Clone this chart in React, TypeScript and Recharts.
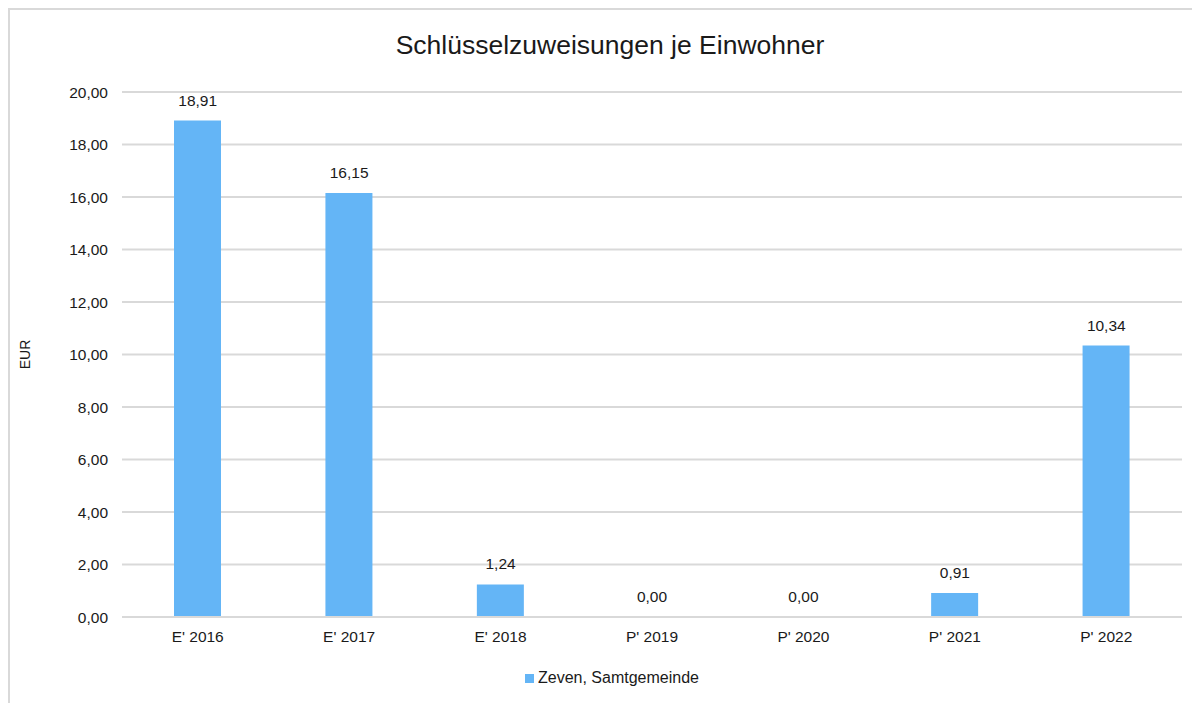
import { ComposedChart, Bar, Line, XAxis, YAxis, CartesianGrid, Legend, LabelList, Label } from 'recharts';

const categories = ["E' 2016", "E' 2017", "E' 2018", "P' 2019", "P' 2020", "P' 2021", "P' 2022"];
const zevenValues = [18.91, 16.15, 1.24, 0, 0, 0.91, 10.34];
const yTicks = [0, 2, 4, 6, 8, 10, 12, 14, 16, 18, 20];

const data = categories.map((name, i) => ({ name, zeven: zevenValues[i] }));

const fmt = (v: number) => v.toFixed(2).replace('.', ',');

const FONT = '"Liberation Sans", Arial, sans-serif';
const BLUE = '#64b5f6';
const GRID = '#d9d9d9';
const TEXT = '#1a1a1a';

export default function App() {
  return (
    <div
      style={{
        position: 'relative',
        width: 1200,
        height: 695,
        borderTop: `2px solid ${GRID}`,
        borderLeft: `2px solid ${GRID}`,
        fontFamily: FONT,
        background: '#fff',
      }}
    >
      {/* titel */}
      <div
        style={{
          position: 'absolute',
          top: 20,
          left: 0,
          width: 1200,
          textAlign: 'center',
          fontSize: 26.5,
          lineHeight: '30px',
          color: TEXT,
        }}
      >
        Schlüsselzuweisungen je Einwohner
      </div>
      <ComposedChart
        width={1200}
        height={693}
        data={data}
        margin={{ top: 82, right: 28, left: 0, bottom: 16 }}
        barCategoryGap={0}
      >
        <CartesianGrid stroke={GRID} strokeWidth={2} vertical={false} />
        <XAxis
          dataKey="name"
          height={52}
          interval={0}
          axisLine={{ stroke: GRID, strokeWidth: 2 }}
          tickLine={false}
          tick={{ fill: TEXT, fontSize: 15.5, fontFamily: FONT }}
          tickMargin={8}
        />
        <YAxis
          width={112}
          domain={[0, 20]}
          ticks={yTicks}
          tickFormatter={fmt}
          axisLine={false}
          tickLine={false}
          tickMargin={8}
          tick={{ fill: TEXT, fontSize: 15.5, fontFamily: FONT }}
        >
          <Label
            content={({ viewBox }: any) => {
              const x = viewBox.x + 15;
              const y = viewBox.y + viewBox.height / 2;
              return (
                <text
                  x={x}
                  y={y}
                  transform={`rotate(-90 ${x} ${y})`}
                  textAnchor="middle"
                  dominantBaseline="central"
                  fontSize={14}
                  fontFamily={FONT}
                  fill={TEXT}
                >
                  EUR
                </text>
              );
            }}
          />
        </YAxis>
        <Legend
          verticalAlign="bottom"
          iconType="square"
          iconSize={9}
          wrapperStyle={{ left: 21 }}
          formatter={(v) => <span style={{ color: TEXT, fontSize: 16 }}>{v}</span>}
        />
        <Bar dataKey="zeven" name="Zeven, Samtgemeinde" fill={BLUE} barSize={47} isAnimationActive={false} />
        {/* unsichtbare Linie nur für die Datenbeschriftungen (auch bei 0,00) */}
        <Line
          dataKey="zeven"
          stroke="none"
          dot={false}
          activeDot={false}
          legendType="none"
          isAnimationActive={false}
        >
          <LabelList
            dataKey="zeven"
            position="top"
            offset={15}
            formatter={(v: any) => fmt(Number(v))}
            style={{ fill: TEXT, fontSize: 15.5, fontFamily: FONT }}
          />
        </Line>
      </ComposedChart>
    </div>
  );
}
